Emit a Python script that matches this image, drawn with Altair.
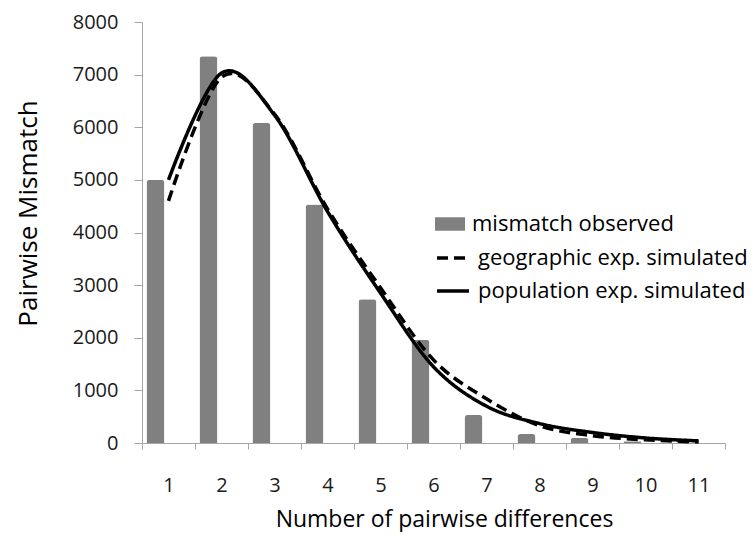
import altair as alt
import pandas as pd

categories = [1, 2, 3, 4, 5, 6, 7, 8, 9, 10, 11]
observed = [5000, 7350, 6080, 4530, 2730, 1960, 530, 170, 95, 35, 10]
geographic = [4600, 6950, 6250, 4450, 2950, 1580, 840, 330, 140, 60, 20]
population = [5000, 7030, 6230, 4400, 2850, 1450, 700, 370, 200, 95, 40]

bar_name = "mismatch observed"
line_names = ["geographic exp. simulated", "population exp. simulated"]

bars_df = pd.DataFrame({"n": categories, "value": observed, "series": bar_name})
lines_df = pd.concat([
    pd.DataFrame({"n": categories, "value": geographic, "series": line_names[0]}),
    pd.DataFrame({"n": categories, "value": population, "series": line_names[1]}),
])

FONT = "Open Sans"
AXIS_COLOR = "#a6a6a6"

x_enc = alt.X(
    "n:O",
    scale=alt.Scale(domain=categories, paddingInner=0, paddingOuter=0),
    axis=alt.Axis(
        title="Number of pairwise differences",
        labelAngle=0,
        tickBand="extent",
        tickSize=6,
        labelPadding=26,
        labelFontSize=20,
        labelFont=FONT,
        labelColor="#1a1a1a",
        titleFont=FONT,
        titleFontSize=23,
        titleFontWeight="normal",
        titleColor="#000000",
        titleX=302,
        titleY=83,
        titleBaseline="alphabetic",
        titleAlign="center",
        domainColor=AXIS_COLOR,
        tickColor=AXIS_COLOR,
        grid=False,
    ),
)

y_enc = alt.Y(
    "value:Q",
    scale=alt.Scale(domain=[0, 8000]),
    axis=alt.Axis(
        title="Pairwise Mismatch",
        values=list(range(0, 8001, 1000)),
        format="d",
        grid=False,
        tickSize=8,
        labelPadding=16,
        labelFontSize=20,
        labelFont=FONT,
        labelColor="#1a1a1a",
        titleFont=FONT,
        titleFontSize=26,
        titleFontWeight="normal",
        titleColor="#000000",
        titleX=-106,
        titleY=191,
        titleBaseline="alphabetic",
        titleAlign="center",
        domainColor=AXIS_COLOR,
        tickColor=AXIS_COLOR,
    ),
)

bars = alt.Chart(bars_df).mark_bar(
    width=18, xOffset=-13, cornerRadiusTopLeft=3, cornerRadiusTopRight=3
).encode(
    x=x_enc,
    y=y_enc,
    fill=alt.Fill(
        "series:N",
        scale=alt.Scale(domain=[bar_name], range=["#808080"]),
        legend=alt.Legend(
            title=None,
            orient="none",
            legendX=293,
            legendY=187,
            padding=0,
            symbolType="M-1,-0.45H1V0.45H-1Z",
            symbolSize=900,
            symbolStrokeWidth=0,
            labelFont=FONT,
            labelFontSize=22,
            labelColor="#000000",
            labelLimit=400,
            labelOffset=7,
        ),
    ),
)

lines = alt.Chart(lines_df).mark_line(
    color="black", strokeWidth=3.5, interpolate="cardinal"
).encode(
    x=alt.X("n:O"),
    y=alt.Y("value:Q"),
    strokeDash=alt.StrokeDash(
        "series:N",
        scale=alt.Scale(domain=line_names, range=[[11, 6], [1, 0]]),
        legend=alt.Legend(
            title=None,
            orient="none",
            legendX=293,
            legendY=218,
            padding=0,
            symbolType="stroke",
            symbolSize=1024,
            symbolStrokeColor="black",
            symbolStrokeWidth=3.5,
            rowPadding=4,
            labelFont=FONT,
            labelFontSize=22,
            labelColor="#000000",
            labelLimit=400,
            labelOffset=7,
        ),
    ),
)

chart = alt.layer(bars, lines).resolve_legend(fill="independent", strokeDash="independent").properties(
    width=583,
    height=421,
    autosize=alt.AutoSizeParams(type="none"),
    padding={"left": 134, "top": 14, "right": 22, "bottom": 89},
    background="white",
).configure_view(stroke=None)

chart.save("out.html", embed_options={"renderer": "svg", "actions": False})
